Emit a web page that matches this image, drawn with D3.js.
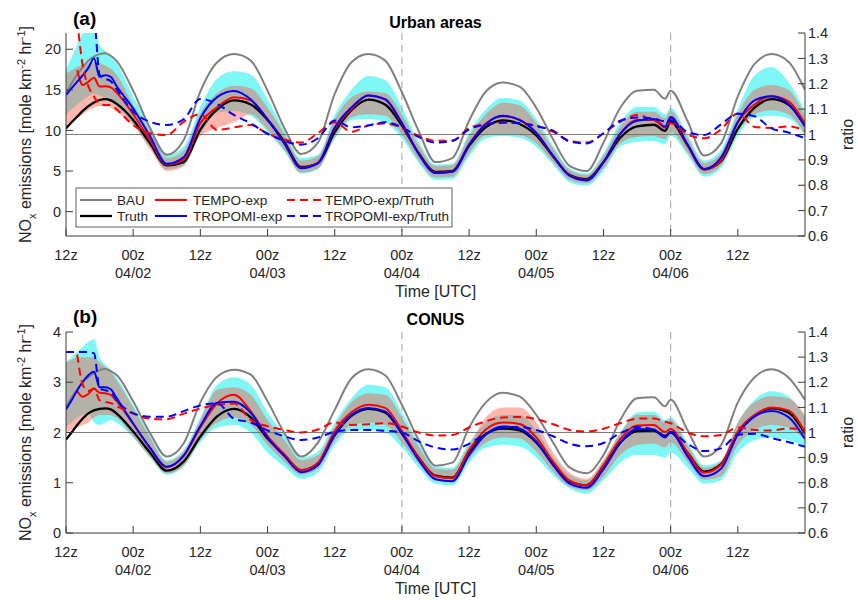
<!DOCTYPE html>
<html><head><meta charset="utf-8">
<script src="https://cdn.jsdelivr.net/npm/d3@7"></script>
<style>
body{margin:0;background:#fff}
svg{font-family:"Liberation Sans",Arial,Helvetica,sans-serif}
</style>
</head><body>
<svg id="c" width="858" height="600"></svg>
<script>
// hours since 04/01 12z
const hours = [0,1,2,3,4,5,6,7,8,9,12,15,18,21,24,27,30,33,36,39,42,45,48,51,54,57,60,63,66,69,72,75,78,81,84,87,90,93,96,99,102,105,107,108,111,114,117,120,123,126,129,132];
const tickHours = [0,12,24,36,48,60,72,84,96,108,120];
const tickLabels = ["12z","00z","12z","00z","12z","00z","12z","00z","12z","00z","12z"];
const dateLabels = ["","04/02","","04/03","","04/04","","04/05","","04/06",""];
const dayLineHours = [60,108];
const legendLabels = ["BAU","Truth","TEMPO-exp","TROPOMI-exp","TEMPO-exp/Truth","TROPOMI-exp/Truth"];

// ---- (a) Urban areas ----
const urbanBAU = [14.5,15.8,16.9,17.8,18.6,19.1,19.4,19.5,19.2,18.6, 14.9,10.3,7.0,8.8,14.8,18.4,19.4,18.6,14.9,10.3, 7.1,8.5,14.5,18.4,19.4,18.6,14.7,9.9,6.1,6.6, 11.2,14.8,15.9,15.4,12.8,8.9,5.6,5.0,8.5,12.8, 14.9,15.0, 13.9, 14.9,11.2,6.9,8.4,14.2,18.2,19.4,18.5,15.0];
const urbanTruth = [10.25,11.0,11.7,12.4,13.0,13.45,13.75,13.85,13.7,13.3, 11.3,8.4,5.7,6.1,10.1,12.6,13.7,13.2,11.3,8.6, 5.5,6.0,9.8,12.5,13.8,13.2,10.6,7.2,4.9,5.0, 8.1,10.4,11.25,10.8,9.4,6.8,4.5,4.0,6.1,9.1, 10.5,10.7, 9.95, 11.05,8.2,5.2,6.2,10.2,12.8,13.85,13.2,10.65];
const urbanTEMPO = [null,null,17.4,15.6,16.0,16.5,15.4,15.45,15.3,14.7, 12.0,8.8,5.8,6.4,10.9,12.85,14.1,13.7,11.35,8.4, 5.4,6.05,10.25,12.65,14.3,13.8,10.85,7.15,4.8,4.9, 8.3,10.85,11.75,11.3,9.7,6.85,4.45,3.9,6.1,9.55, 11.3,11.3, 10.35, 11.55,8.2,5.2,6.3,11.0,13.2,14.2,13.6,10.8];
const urbanTROPOMI = [14.35,15.2,16.0,16.8,17.7,18.9,16.6,16.8,16.6,15.5, 12.7,9.3,5.9,6.7,11.5,14.1,14.85,13.8,11.35,8.4, 5.35,5.95,10.35,12.85,14.3,13.85,10.9,7.1,4.75,4.9, 8.25,10.8,11.8,11.3,9.7,6.9,4.4,3.85,6.1,9.6, 11.2,11.4, 10.45, 11.65,8.3,5.25,6.65,11.05,13.7,14.2,13.3,10.5];
const urbanTEMPOratio = [null,null,1.45,1.27,1.19,1.15,1.12,1.116,1.116,1.10, 1.037,1.005,0.998,1.05,1.08,1.018,1.028,1.037,1.003,0.98, 0.968,1.005,1.048,1.011,1.035,1.043,1.025,0.995,0.975,0.975, 1.025,1.042,1.046,1.045,1.035,1.01,0.975,0.968,1.005,1.05, 1.077,1.055, 1.04, 1.044,1.0,0.985,1.02,1.083,1.03,1.026,1.032,1.015];
const urbanTROPOMIratio = [1.45,1.45,1.45,1.45,1.45,1.45,1.235,1.22,1.21,1.18, 1.09,1.05,1.037,1.06,1.14,1.12,1.077,1.044,1.003,0.975, 0.96,0.985,1.055,1.028,1.036,1.048,1.028,0.99,0.968,0.975, 1.02,1.04,1.047,1.045,1.033,1.015,0.972,0.965,1.005,1.054, 1.067,1.063, 1.052, 1.057,1.01,0.998,1.04,1.082,1.072,1.024,1.008,0.985];
const urbanTROPOMIlo = [12.0,12.6,13.2,13.7,14.2,14.5,14.3,14.0,13.6,13.0, 10.8,7.9,5.2,5.7,9.6,12.2,12.4,11.8,9.8,7.4, 4.7,5.2,8.9,11.3,11.4,11.0,9.0,6.0,3.9,4.0, 6.8,9.0,9.3,9.1,8.0,5.8,3.6,3.2,5.0,8.0, 8.6,8.7, 8.3, 9.3,7.0,4.3,5.4,9.3,11.6,11.8,11.5,9.3];
const urbanTROPOMIhi = [17.5,19.0,20.5,22.0,23.0,23.0,20.5,19.8,19.3,18.4, 14.2,10.6,7.0,8.0,12.9,16.4,17.3,16.9,13.8,10.0, 6.6,7.0,11.9,15.0,16.7,16.2,12.8,8.6,5.8,5.9, 9.7,12.6,14.0,13.7,11.4,8.1,5.3,4.7,7.2,11.0, 12.9,12.9, 12.0, 12.8,9.5,6.3,7.6,12.6,16.8,17.8,16.0,12.4];
const urbanTEMPOlo = [10.2,10.8,11.5,12.0,12.5,12.8,13.0,13.0,12.8,12.3, 10.6,7.7,5.0,5.6,9.3,10.3,11.0,12.0,10.1,7.6, 4.8,5.3,9.2,11.6,12.0,11.8,9.5,6.3,4.2,4.3, 7.2,9.4,9.5,9.4,8.4,6.1,3.9,3.5,5.3,8.4, 9.2,9.3, 8.9, 9.8,7.3,4.6,5.7,9.8,12.0,12.5,12.0,9.6];
const urbanTEMPOhi = [17.0,17.4,17.8,18.1,18.3,18.4,18.3,18.0,17.6,16.9, 13.2,9.9,6.6,7.5,12.1,14.6,15.5,15.2,12.8,9.6, 6.3,6.8,11.4,14.1,14.8,14.6,12.0,8.2,5.6,5.7, 9.3,12.0,13.4,13.1,10.9,7.8,5.1,4.5,6.9,10.5, 12.3,12.3, 11.5, 12.4,9.1,6.0,7.2,12.0,15.0,15.6,15.0,11.8];
const urbanTicks = [0,5,10,15,20];

// ---- (b) CONUS ----
const conusBAU = [2.5,2.7,2.85,3.0,3.1,3.18,3.24,3.27,3.22,3.15, 2.62,1.99,1.52,1.78,2.6,3.11,3.25,3.15,2.62,1.99, 1.52,1.8,2.45,3.08,3.26,3.14,2.55,1.85,1.34,1.4, 2.1,2.6,2.79,2.72,2.35,1.8,1.3,1.19,1.55,2.25, 2.68,2.7, 2.52, 2.65,2.05,1.52,1.75,2.6,3.1,3.26,3.1,2.65];
const conusTruth = [1.86,2.0,2.15,2.28,2.38,2.44,2.47,2.48,2.46,2.38, 2.02,1.6,1.24,1.42,1.92,2.32,2.47,2.30,1.88,1.55, 1.25,1.38,1.95,2.33,2.47,2.40,1.98,1.5,1.14,1.1, 1.62,1.97,2.08,2.04,1.8,1.37,1.03,0.95,1.33,1.8, 2.03,2.04, 1.93, 2.0,1.6,1.22,1.37,1.98,2.33,2.48,2.4,1.98];
const conusTEMPO = [null,null,2.82,2.71,2.77,2.87,2.79,2.78,2.75,2.63, 2.17,1.69,1.31,1.53,2.1,2.58,2.75,2.42,1.93,1.57, 1.25,1.4,2.03,2.4,2.55,2.49,2.03,1.5,1.13,1.09, 1.65,2.06,2.2,2.17,1.9,1.42,1.04,0.95,1.35,1.87, 2.14,2.15, 2.01, 2.07,1.6,1.2,1.36,2.02,2.35,2.5,2.44,2.01];
const conusTROPOMI = [2.46,2.64,2.84,3.01,3.14,3.21,2.9,2.9,2.86,2.69, 2.18,1.7,1.32,1.54,2.13,2.59,2.61,2.39,1.9,1.53, 1.21,1.35,1.96,2.35,2.49,2.42,1.98,1.45,1.07,1.03, 1.55,1.96,2.12,2.08,1.82,1.35,0.98,0.9,1.27,1.79, 2.07,2.06, 1.9, 2.01,1.53,1.13,1.28,1.96,2.32,2.43,2.31,1.87];
const conusTEMPOratio = [null,null,1.31,1.19,1.165,1.175,1.128,1.122,1.117,1.105, 1.075,1.055,1.053,1.075,1.095,1.11,1.115,1.05,1.025,1.01, 1.0,1.012,1.04,1.03,1.033,1.037,1.024,1.0,0.988,0.99, 1.02,1.045,1.06,1.062,1.053,1.033,1.01,1.004,1.015,1.037, 1.055,1.056, 1.043, 1.037,1.0,0.985,0.99,1.02,1.01,1.008,1.016,1.013];
const conusTROPOMIratio = [1.32,1.32,1.32,1.32,1.32,1.315,1.175,1.168,1.162,1.13, 1.077,1.063,1.063,1.085,1.108,1.116,1.055,1.04,1.008,0.985, 0.97,0.98,1.003,1.01,1.01,1.007,1.0,0.965,0.94,0.932, 0.955,0.995,1.02,1.022,1.01,0.985,0.955,0.945,0.958,0.997, 1.022,1.01, 0.985, 1.003,0.955,0.926,0.937,0.99,0.995,0.978,0.962,0.943];
const conusTROPOMIlo = [2.1,2.2,2.3,2.35,2.38,2.2,2.15,2.2,2.25,2.2, 1.9,1.5,1.16,1.32,1.8,2.1,2.15,2.0,1.6,1.32, 1.08,1.2,1.75,2.05,2.05,2.0,1.7,1.3,0.98,0.95, 1.4,1.7,1.75,1.72,1.5,1.15,0.88,0.78,1.05,1.4, 1.55,1.55, 1.5, 1.6,1.3,0.98,1.05,1.6,1.85,1.9,1.85,1.72];
const conusTROPOMIhi = [3.4,3.5,3.6,3.7,3.8,3.85,3.5,3.35,3.25,3.1, 2.55,1.95,1.45,1.65,2.3,2.95,3.1,2.95,2.4,1.95, 1.5,1.62,2.2,2.68,2.95,2.9,2.4,1.8,1.32,1.3, 1.8,2.2,2.35,2.35,2.05,1.52,1.15,1.05,1.45,2.0, 2.4,2.42, 2.25, 2.3,1.8,1.35,1.45,2.2,2.65,2.82,2.72,2.3];
const conusTEMPOlo = [2.0,2.05,2.1,2.15,2.2,2.3,2.35,2.35,2.35,2.3, 1.92,1.52,1.18,1.34,1.85,2.2,2.3,2.15,1.75,1.42, 1.16,1.28,1.82,2.15,2.2,2.15,1.8,1.38,1.04,1.02, 1.48,1.8,1.9,1.88,1.62,1.22,0.92,0.85,1.12,1.55, 1.75,1.78, 1.7, 1.8,1.42,1.06,1.13,1.75,2.05,2.15,2.1,1.85];
const conusTEMPOhi = [3.4,3.45,3.5,3.5,3.5,3.5,3.4,3.3,3.2,3.05, 2.5,1.9,1.42,1.62,2.25,2.85,2.9,2.75,2.25,1.85, 1.45,1.55,2.12,2.6,2.78,2.75,2.3,1.72,1.28,1.26, 1.75,2.3,2.5,2.5,2.2,1.6,1.2,1.08,1.45,1.98, 2.35,2.35, 2.2, 2.25,1.75,1.3,1.42,2.2,2.6,2.72,2.68,2.35];
const conusTicks = [0,1,2,3,4];
const ratioTicks = [0.6,0.7,0.8,0.9,1.0,1.1,1.2,1.3,1.4];

const svg = d3.select("#c");
const L = 66, R = 805;
const x = d3.scaleLinear().domain([0,132]).range([L,R]);
const axisCol = "#3a3a3a", textCol = "#262626";

const panels = [
  {id:"a", top:33, bottom:236, yDom:[-3,22], yTicks:urbanTicks, title:"Urban areas", tag:"(a)", titleY:28, tagY:25,
   bau:urbanBAU, truth:urbanTruth, tempo:urbanTEMPO, tropomi:urbanTROPOMI, rT:urbanTEMPOratio, rP:urbanTROPOMIratio,
   cLo:urbanTROPOMIlo, cHi:urbanTROPOMIhi, pLo:urbanTEMPOlo, pHi:urbanTEMPOhi, legend:true},
  {id:"b", top:332, bottom:533, yDom:[0,4], yTicks:conusTicks, title:"CONUS", tag:"(b)", titleY:325, tagY:323,
   bau:conusBAU, truth:conusTruth, tempo:conusTEMPO, tropomi:conusTROPOMI, rT:conusTEMPOratio, rP:conusTROPOMIratio,
   cLo:conusTROPOMIlo, cHi:conusTROPOMIhi, pLo:conusTEMPOlo, pHi:conusTEMPOhi, legend:false}
];

panels.forEach(p => {
  const y = d3.scaleLinear().domain(p.yDom).range([p.bottom, p.top]);
  const yr = d3.scaleLinear().domain([0.6,1.4]).range([p.bottom, p.top]);
  const g = svg.append("g");
  const clipId = "clip"+p.id;
  svg.append("clipPath").attr("id", clipId).append("rect")
    .attr("x", L).attr("y", p.top).attr("width", R-L).attr("height", p.bottom-p.top);
  const plot = g.append("g").attr("clip-path", `url(#${clipId})`);

  const idx = d3.range(hours.length);
  const area = (lo, hi) => d3.area().curve(d3.curveMonotoneX)
      .x(i => x(hours[i])).y0(i => y(lo[i])).y1(i => y(hi[i]));
  plot.append("path").attr("d", area(p.cLo, p.cHi)(idx)).attr("fill", "rgb(0,240,240)").attr("fill-opacity", 0.5);
  plot.append("path").attr("d", area(p.pLo, p.pHi)(idx)).attr("fill", "rgb(255,80,60)").attr("fill-opacity", 0.42);

  // ratio = 1 reference line and day separators
  plot.append("line").attr("x1", L).attr("x2", R).attr("y1", yr(1)).attr("y2", yr(1))
    .attr("stroke", "#6e6e6e").attr("stroke-width", 0.9);
  dayLineHours.forEach(h => {
    plot.append("line").attr("x1", x(h)).attr("x2", x(h)).attr("y1", p.top).attr("y2", p.bottom)
      .attr("stroke", "#a8a8a8").attr("stroke-width", 1.1).attr("stroke-dasharray", "7,5");
  });

  const line = (arr, sc) => d3.line().curve(d3.curveMonotoneX)
      .defined(i => arr[i] != null).x(i => x(hours[i])).y(i => sc(arr[i]));
  const draw = (arr, sc, col, w, dash) => {
    const pth = plot.append("path").attr("d", line(arr, sc)(idx)).attr("fill", "none")
      .attr("stroke", col).attr("stroke-width", w).attr("stroke-linejoin", "round");
    if (dash) pth.attr("stroke-dasharray", dash);
  };
  draw(p.bau, y, "#808080", 2, null);
  draw(p.truth, y, "#000000", 2.3, null);
  draw(p.tempo, y, "#ff0000", 2, null);
  draw(p.tropomi, y, "#0000ff", 2, null);
  draw(p.rT, yr, "#ff0000", 2, "8,5");
  draw(p.rP, yr, "#0000ff", 2, "8,5");

  // axes
  g.append("line").attr("x1", L).attr("x2", L).attr("y1", p.top).attr("y2", p.bottom).attr("stroke", axisCol);
  g.append("line").attr("x1", R).attr("x2", R).attr("y1", p.top).attr("y2", p.bottom).attr("stroke", axisCol);
  g.append("line").attr("x1", L).attr("x2", R).attr("y1", p.bottom).attr("y2", p.bottom).attr("stroke", axisCol);

  p.yTicks.forEach(t => {
    g.append("line").attr("x1", L).attr("x2", L+7).attr("y1", y(t)).attr("y2", y(t)).attr("stroke", axisCol);
    g.append("text").attr("x", L-5).attr("y", y(t)).attr("dy", "0.36em").attr("text-anchor", "end")
      .attr("fill", textCol).style("font-size", "14.5px").text(t);
  });
  ratioTicks.forEach(t => {
    g.append("line").attr("x1", R-7).attr("x2", R).attr("y1", yr(t)).attr("y2", yr(t)).attr("stroke", axisCol);
    g.append("text").attr("x", R+3).attr("y", yr(t)).attr("dy", "0.36em").attr("text-anchor", "start")
      .attr("fill", textCol).style("font-size", "14.5px").text(Math.abs(t-1) < 1e-9 ? "1" : t.toFixed(1));
  });
  tickHours.forEach((h, i) => {
    g.append("line").attr("x1", x(h)).attr("x2", x(h)).attr("y1", p.bottom).attr("y2", p.bottom-7).attr("stroke", axisCol);
    g.append("text").attr("x", x(h)).attr("y", p.bottom+24).attr("text-anchor", "middle")
      .attr("fill", textCol).style("font-size", "14.5px").text(tickLabels[i]);
    if (dateLabels[i]) g.append("text").attr("x", x(h)).attr("y", p.bottom+41.5).attr("text-anchor", "middle")
      .attr("fill", textCol).style("font-size", "14.5px").text(dateLabels[i]);
  });
  g.append("text").attr("x", (L+R)/2).attr("y", p.bottom+61).attr("text-anchor", "middle")
    .attr("fill", textCol).style("font-size", "16px").text("Time [UTC]");

  // titles
  g.append("text").attr("x", (L+R)/2).attr("y", p.titleY).attr("text-anchor", "middle")
    .attr("fill", "#000").style("font-size", "16px").style("font-weight", "bold").text(p.title);
  g.append("text").attr("x", 73).attr("y", p.tagY).attr("fill", "#000")
    .style("font-size", "19px").style("font-weight", "bold").text(p.tag);

  // y labels
  const cy = (p.top + p.bottom) / 2;
  const yl = g.append("text").attr("transform", `translate(31,${cy}) rotate(-90)`)
    .attr("text-anchor", "middle").attr("fill", textCol).style("font-size", "16px");
  yl.append("tspan").text("NO");
  yl.append("tspan").attr("dy", 5).style("font-size", "11px").text("x");
  yl.append("tspan").attr("dy", -5).text(" emissions [mole km");
  yl.append("tspan").attr("dy", -6).style("font-size", "11px").text("-2");
  yl.append("tspan").attr("dy", 6).text(" hr");
  yl.append("tspan").attr("dy", -6).style("font-size", "11px").text("-1");
  yl.append("tspan").attr("dy", 6).text("]");
  g.append("text").attr("transform", `translate(853,${cy}) rotate(-90)`).attr("text-anchor", "middle")
    .attr("fill", textCol).style("font-size", "16px").text("ratio");

  if (p.legend) {
    const lg = g.append("g");
    lg.append("rect").attr("x", 76).attr("y", 188).attr("width", 376).attr("height", 39)
      .attr("fill", "#fff").attr("stroke", "#3a3a3a").attr("stroke-width", 0.8);
    const items = [
      {x1:80, x2:112, tx:117, y:200, col:"#808080", w:2, dash:null, label:legendLabels[0]},
      {x1:80, x2:112, tx:117, y:216, col:"#000", w:2.3, dash:null, label:legendLabels[1]},
      {x1:155, x2:187, tx:193, y:200, col:"#ff0000", w:2, dash:null, label:legendLabels[2]},
      {x1:155, x2:187, tx:193, y:216, col:"#0000ff", w:2, dash:null, label:legendLabels[3]},
      {x1:287, x2:322, tx:325, y:200, col:"#ff0000", w:2, dash:"8,5", label:legendLabels[4]},
      {x1:287, x2:322, tx:325, y:216, col:"#0000ff", w:2, dash:"8,5", label:legendLabels[5]}
    ];
    items.forEach(it => {
      const ln = lg.append("line").attr("x1", it.x1).attr("x2", it.x2).attr("y1", it.y).attr("y2", it.y)
        .attr("stroke", it.col).attr("stroke-width", it.w);
      if (it.dash) ln.attr("stroke-dasharray", it.dash);
      lg.append("text").attr("x", it.tx).attr("y", it.y).attr("dy", "0.36em").attr("fill", textCol)
        .style("font-size", "13.5px").text(it.label);
    });
  }
});
</script>
</body></html>
